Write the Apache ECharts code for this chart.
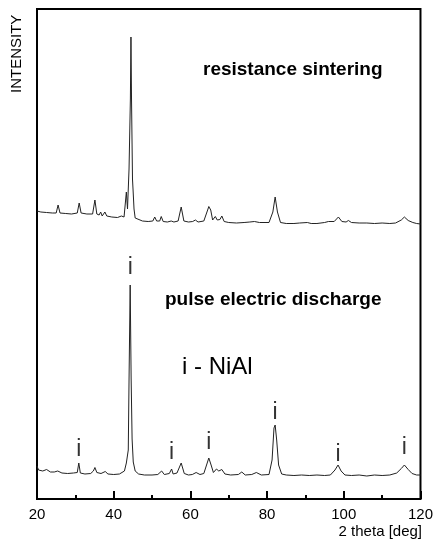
<!DOCTYPE html>
<html>
<head>
<meta charset="utf-8">
<script src="https://cdn.jsdelivr.net/npm/echarts@6/dist/echarts.min.js"></script>
<style>html,body{margin:0;padding:0;background:#fff}#c{width:436px;height:545px}</style>
</head>
<body>
<div id="c"></div>
<script>
// 2 theta [deg] and intensity (arbitrary units, stacked)
var sinterTheta = [20.0,21.0,22.5,24.0,25.0,25.5,26.0,27.5,29.0,30.5,31.0,31.5,33.0,34.5,35.1,35.6,36.2,36.6,37.0,37.7,38.2,39.5,41.0,42.0,42.3,42.7,43.3,43.6,44.0,44.35,44.5,44.65,44.9,45.05,45.3,45.6,46.0,47.5,49.0,50.2,50.7,51.2,52.0,52.4,52.9,54.0,55.0,55.3,55.7,56.8,57.6,58.3,59.5,60.6,61.3,62.0,63.5,64.5,64.8,65.3,65.8,66.5,67.0,67.7,68.2,68.8,70.0,72.0,74.0,75.5,76.7,77.2,78.0,80.5,81.5,82.1,82.7,83.5,85.0,87.0,88.5,90.5,91.5,93.0,95.0,96.0,97.5,98.6,99.5,100.6,101.2,102.0,104,106,108,110,112,113.5,115.0,115.8,116.8,118.0,119.0,120.0];
var sinterIntensity = [288,287,286.5,286,286,294,286,285.5,285,286,296,286,285,285,299,285,284,287,283,287,283,282,281.5,283,285,282,307,290,330,400,462,400,320,309,290,281,279,278,277.5,278,282,278,278,282.5,277.5,277,278,279.5,277,278,292,278,277,277.5,279,277,278,289,292.5,289,279,282.5,279,279.5,283,277.5,276.5,276,276.5,277,277.5,278,276.5,276.5,287,302,287,276.5,275.5,275.5,276,276.5,275.5,275.5,276.5,277.5,277.5,282,277.5,277,278.5,276.5,276,276,275.5,276,275.5,276,279,282,278.5,276.5,275.5,275];

var pulseTheta = [20.0,20.4,21.5,22.5,23.5,24.5,25.4,26.5,28.0,29.5,30.5,30.9,31.3,32.5,34.0,34.7,35.1,35.6,36.7,37.8,38.5,40.0,41.5,42.8,43.3,43.8,44.0,44.3,44.55,44.8,45.1,45.6,46.5,48.0,50.0,51.5,52.5,53.2,54.5,55.1,55.5,56.5,57.6,58.4,59.5,60.5,61.5,62.5,63.5,64.3,64.8,65.4,66.0,66.8,67.4,68.2,69.0,70.5,72.5,73.4,74.3,76.0,77.2,78.5,80.5,81.3,81.8,82.1,82.5,83.0,83.8,85.0,87.0,89.0,91.0,93.0,95.0,96.5,97.7,98.5,99.3,100.3,102,104,106,108,110,112,113.8,115.0,115.8,116.8,117.8,119.0,120.0];
var pulseIntensity = [33,29,28,29.5,27,27,28,26,25.5,26,26.5,36,26,25,25.5,28,31.5,26.5,25.5,27.5,25,24.5,25,28,36,49,119,214,120,60,37,28,25,24,24,24.5,28,24.5,25.5,30,25,26,36,25.5,24,24.5,26.5,24.5,25.5,35,41,34,26.5,30,28,29.5,25,24,24.5,27,24,24.5,26.5,24,24.5,39,71,74,59,34,25,24,23.5,24,23.5,24,23.5,24,29,34,28,24,23.5,24,23,24,23.5,24,26,30.5,34,29.5,25.5,24,24];

// NiAl peak markers ("i") : position 2 theta and label height
var peakTheta = [30.9,44.3,55.1,64.8,82.1,98.5,115.8];
var peakLabelIntensity = [49,231,46,56,86,44,51];

var xTicks = [20,40,60,80,100,120];

function zip(a,b){var r=[];for(var i=0;i<a.length;i++)r.push([a[i],b[i]]);return r;}

var chart = echarts.init(document.getElementById('c'), null, {renderer:'canvas'});
var font = 'Liberation Sans, Arial, sans-serif';
chart.setOption({
  animation:false,
  backgroundColor:'#fff',
  grid:{left:37,top:9,right:14,bottom:46,show:true,borderColor:'#000',borderWidth:2,backgroundColor:'transparent'},
  xAxis:{type:'value',min:xTicks[0],max:xTicks[xTicks.length-1],interval:20,
    axisLine:{show:false},
    axisTick:{show:true,inside:true,length:8,lineStyle:{color:'#000',width:2}},
    minorTick:{show:true,splitNumber:2,length:4,lineStyle:{color:'#000',width:2}},
    splitLine:{show:false},
    axisLabel:{color:'#000',fontSize:15,fontFamily:font,margin:8}
  },
  yAxis:{type:'value',min:0,max:490,show:true,axisLine:{show:false},axisTick:{show:false},axisLabel:{show:false},splitLine:{show:false}},
  series:[
    {type:'line',data:zip(sinterTheta,sinterIntensity),showSymbol:false,lineStyle:{color:'#222',width:1},silent:true},
    {type:'line',data:zip(pulseTheta,pulseIntensity),showSymbol:false,lineStyle:{color:'#222',width:1},silent:true},
    {type:'scatter',data:zip(peakTheta,peakLabelIntensity),symbol:'circle',symbolSize:1,itemStyle:{color:'rgba(0,0,0,0)'},silent:true,
      label:{show:true,position:'inside',formatter:'i',color:'#000',fontSize:23,fontFamily:font}}
  ],
  graphic:[
    {type:'text',left:203,top:60,style:{text:'resistance sintering',fill:'#000',font:'bold 19px '+font}},
    {type:'text',left:165,top:290,style:{text:'pulse electric discharge',fill:'#000',font:'bold 19px '+font}},
    {type:'text',left:182,top:355,style:{text:'i - NiAl',fill:'#000',font:'24px '+font}},
    {type:'text',x:17,y:93,rotation:Math.PI/2,style:{text:'INTENSITY',fill:'#000',font:'15px '+font,textAlign:'left',textVerticalAlign:'middle'}},
    {type:'text',right:14,top:524,style:{text:'2 theta [deg]',fill:'#000',font:'15px '+font}}
  ]
});
</script>
</body>
</html>
